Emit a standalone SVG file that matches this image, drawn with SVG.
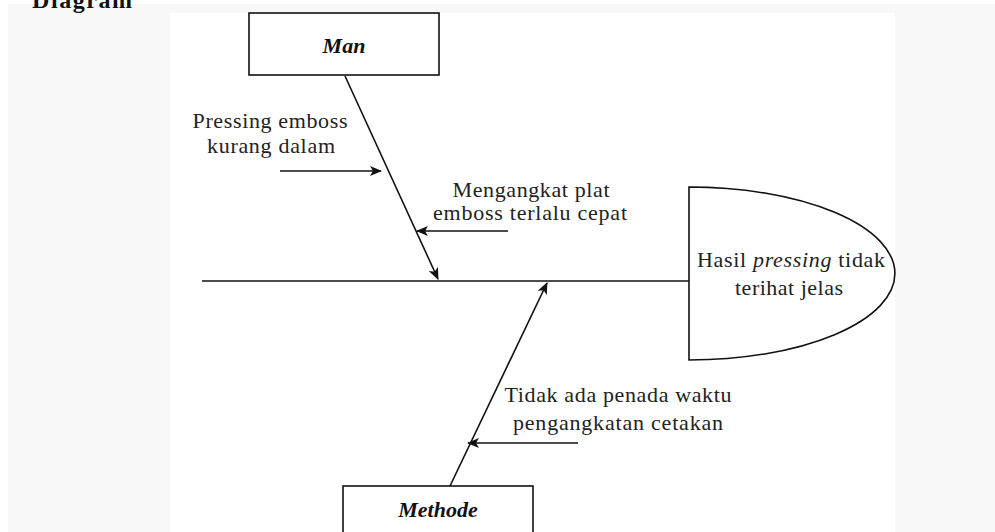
<svg xmlns="http://www.w3.org/2000/svg" width="995" height="532" viewBox="0 0 995 532">
<style>
.lbl{font-family:"Liberation Serif","Times New Roman",serif;font-size:22px;fill:#222;text-anchor:middle}
.node{fill:#fff;stroke:#111;stroke-width:1.6}
.nt{font-family:"Liberation Serif","Times New Roman",serif;font-size:22px;font-weight:bold;font-style:italic;fill:#111;text-anchor:middle}
.ln{stroke:#111;stroke-width:1.6;fill:none}
</style>
<defs>
<marker id="ah" markerWidth="12" markerHeight="10" refX="11" refY="5" orient="auto" markerUnits="userSpaceOnUse">
<path d="M0,0 L12,5 L0,10 L3,5 Z" fill="#111"/>
</marker>
</defs>
<rect x="0" y="0" width="995" height="532" fill="#fff"/>
<rect x="8" y="4" width="987" height="528" fill="#f8f8f8"/>
<rect x="170" y="13" width="725" height="519" fill="#fff"/>
<text x="32" y="8" font-family="Liberation Serif,serif" font-size="24" font-weight="bold" fill="#111" textLength="100">Diagram</text>
<g id="connectors">
<line class="ln" x1="202" y1="281" x2="689" y2="281"/>
<line class="ln" x1="345" y1="76" x2="438" y2="279" marker-end="url(#ah)"/>
<line class="ln" x1="450" y1="486" x2="547" y2="283" marker-end="url(#ah)"/>
<line class="ln" x1="280" y1="171" x2="381" y2="171" marker-end="url(#ah)"/>
<line class="ln" x1="508" y1="231" x2="417" y2="231" marker-end="url(#ah)"/>
<line class="ln" x1="578" y1="443" x2="468" y2="443" marker-end="url(#ah)"/>
</g>
<g id="man">
<rect class="node" x="249" y="13" width="190" height="62"/>
<text class="nt" x="344" y="53">Man</text>
</g>
<g id="methode">
<rect class="node" x="343" y="486" width="190" height="60"/>
<text class="nt" x="438" y="517">Methode</text>
</g>
<g id="effect">
<path class="node" d="M689,187 A206,86.5 0 0 1 689,360 Z"/>
<text class="lbl" x="791" y="267" textLength="188">Hasil <tspan font-style="italic">pressing</tspan> tidak</text>
<text class="lbl" x="789" y="295" textLength="108">terihat jelas</text>
</g>
<g id="cause-pressing">
<text class="lbl" x="270" y="128" textLength="155">Pressing emboss</text>
<text class="lbl" x="271" y="153" textLength="128">kurang dalam</text>
</g>
<g id="cause-mengangkat">
<text class="lbl" x="531" y="197" textLength="157">Mengangkat plat</text>
<text class="lbl" x="530" y="220" textLength="194">emboss terlalu cepat</text>
</g>
<g id="cause-tidak">
<text class="lbl" x="618" y="402" textLength="227">Tidak ada penada waktu</text>
<text class="lbl" x="618" y="430" textLength="210">pengangkatan cetakan</text>
</g>
</svg>
